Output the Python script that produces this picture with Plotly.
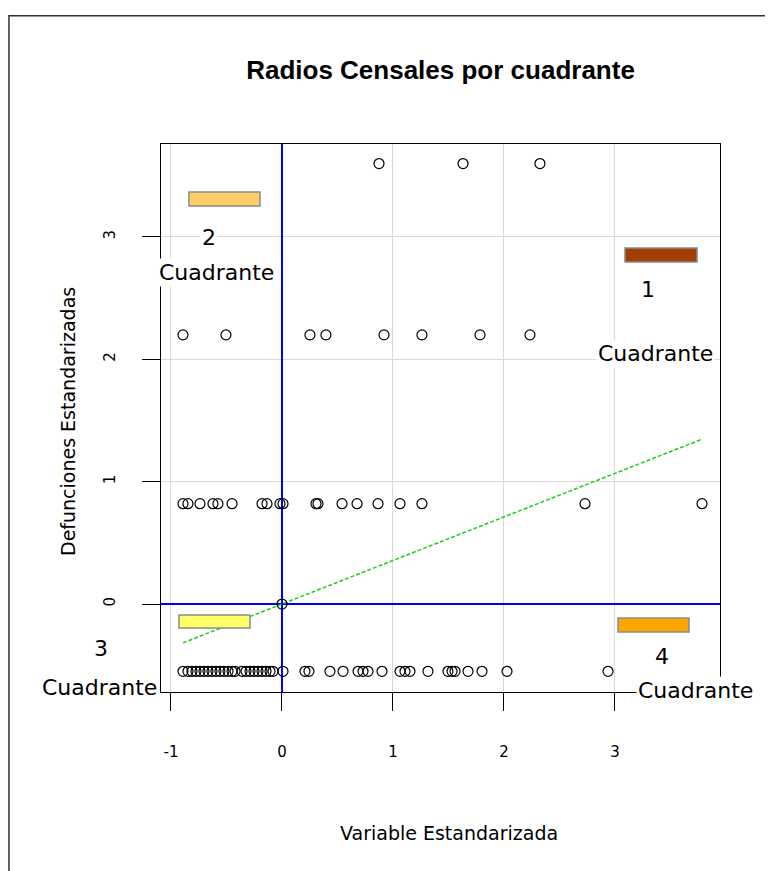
import plotly.graph_objects as go
import numpy as np

# ---------------- data ----------------
row_levels = [3.60, 2.20, 0.82, -0.55]   # standardized deaths (4 levels)

x_row_1 = [0.874, 1.631, 2.324]
x_row_2 = [-0.892, -0.505, 0.252, 0.396, 0.919, 1.261, 1.784, 2.234]
x_row_3 = [-0.892, -0.847, -0.739, -0.622, -0.577, -0.450, -0.180, -0.135,
           -0.018, 0.009, 0.306, 0.324, 0.541, 0.676, 0.865, 1.063, 1.261,
           2.730, 3.784]
x_row_4 = [-0.892, -0.847, -0.811, -0.775, -0.739, -0.703, -0.667, -0.631,
           -0.595, -0.559, -0.523, -0.486, -0.450, -0.423, -0.360, -0.324,
           -0.288, -0.252, -0.216, -0.180, -0.144, -0.108, -0.081, 0.009,
           0.207, 0.243, 0.432, 0.550, 0.685, 0.730, 0.775, 0.901, 1.063,
           1.108, 1.153, 1.315, 1.495, 1.532, 1.559, 1.676, 1.802, 2.027,
           2.937]
center_x = [0.0]
center_y = [0.0]

fit_intercept = 0.0
fit_slope = 0.356

x_ticks = [-1, 0, 1, 2, 3]
y_ticks = [0, 1, 2, 3]

quadrant_names = ["1", "2", "3", "4"]
quadrant_colors = ["#A33F00", "#FFCC66", "#FFFF66", "#FFA500"]
quadrant_word = "Cuadrante"

title_text = "Radios Censales por cuadrante"
x_title = "Variable Estandarizada"
y_title = "Defunciones Estandarizadas"

# ---------------- build ----------------
xs, ys = [], []
for lvl, row in zip(row_levels, [x_row_1, x_row_2, x_row_3, x_row_4]):
    xs += row
    ys += [lvl] * len(row)
xs += center_x
ys += center_y

fig = go.Figure()

x_fit = np.array([min(xs), max(xs)])
y_fit = fit_intercept + fit_slope * x_fit
fig.add_trace(go.Scatter(x=x_fit, y=y_fit, mode="lines",
                         line=dict(color="#1ECC1E", width=1.5, dash="4px,2px"),
                         hoverinfo="skip", showlegend=False))

fig.add_trace(go.Scatter(x=xs, y=ys, mode="markers",
                         marker=dict(symbol="circle-open", size=10,
                                     color="black", line=dict(width=1.2, color="black")),
                         showlegend=False))

axis_font = dict(family="DejaVu Sans", size=15, color="black")

fig.update_layout(
    width=765, height=863,
    margin=dict(l=153, r=53, t=136, b=179, autoexpand=False),
    paper_bgcolor="white", plot_bgcolor="white",
    showlegend=False,
    xaxis=dict(range=[-1.090, 3.946], tickvals=x_ticks, ticktext=[str(v) for v in x_ticks],
               showgrid=True, gridcolor="#D9D9D9", gridwidth=1,
               zeroline=True, zerolinecolor="#0000FF", zerolinewidth=1.5,
               showline=True, linecolor="black", linewidth=1, mirror=True,
               ticks="outside", ticklen=18, tickcolor="black", tickwidth=1,
               tickfont=axis_font, ticklabelstandoff=28),
    yaxis=dict(range=[-0.719, 3.760], tickvals=y_ticks, ticktext=[str(v) for v in y_ticks],
               showgrid=True, gridcolor="#D9D9D9", gridwidth=1,
               zeroline=True, zerolinecolor="#0000FF", zerolinewidth=1.5,
               showline=True, linecolor="black", linewidth=1, mirror=True,
               ticks="outside", ticklen=18, tickcolor="black", tickwidth=1,
               tickangle=-90, tickfont=axis_font, ticklabelstandoff=21),
    title=dict(text="<b>" + title_text + "</b>", xref="paper", yref="container",
               x=0.5, y=0.928, xanchor="center", yanchor="middle",
               font=dict(family="Liberation Sans Narrow, Liberation Sans", size=26, color="black")),
)

# outer frame of the device
fig.add_shape(type="rect", xref="paper", yref="paper",
              x0=-0.2720, y0=-0.40, x1=1.20, y1=1.2340,
              line=dict(color="#333333", width=1.5), fillcolor="rgba(0,0,0,0)", layer="below")

# quadrant legend boxes (data coordinates)
rects = {
    "1": (3.090, 2.796, 3.739, 2.910),
    "2": (-0.838, 3.253, -0.198, 3.368),
    "3": (-0.928, -0.196, -0.288, -0.090),
    "4": (3.027, -0.229, 3.667, -0.114),
}
# label positions in paper coordinates (some fall outside the axes)
num_pos = {"1": (0.8712, 0.7336), "2": (0.0859, 0.8302), "3": (-0.1073, 0.0785), "4": (0.8963, 0.0639)}
word_pos = {"1": (0.8855, 0.6186), "2": (0.0984, 0.7646), "3": (-0.1109, 0.0073), "4": (0.9562, 0.0036)}

lab_font = dict(family="DejaVu Sans", size=22, color="black")
for name, col in zip(quadrant_names, quadrant_colors):
    x0, y0, x1, y1 = rects[name]
    fig.add_shape(type="rect", xref="x", yref="y", x0=x0, y0=y0, x1=x1, y1=y1,
                  fillcolor=col, line=dict(color="#8C8C8C", width=1.5), layer="above")
    nx, ny = num_pos[name]
    fig.add_annotation(x=nx, y=ny, xref="paper", yref="paper", text=name, showarrow=False,
                       font=lab_font, bgcolor="white", xanchor="center", yanchor="middle")
    wx, wy = word_pos[name]
    fig.add_annotation(x=wx, y=wy, xref="paper", yref="paper", text=quadrant_word, showarrow=False,
                       font=lab_font, bgcolor="white", xanchor="center", yanchor="middle")

# axis titles
fig.add_annotation(x=0.515, y=-0.257, xref="paper", yref="paper", text=x_title,
                   showarrow=False, font=dict(family="DejaVu Sans", size=19, color="black"),
                   xanchor="center", yanchor="middle")
fig.add_annotation(x=-0.1664, y=0.4945, xref="paper", yref="paper", text=y_title,
                   showarrow=False, textangle=-90,
                   font=dict(family="DejaVu Sans", size=19, color="black"),
                   xanchor="center", yanchor="middle")

fig.write_html("out.html")
